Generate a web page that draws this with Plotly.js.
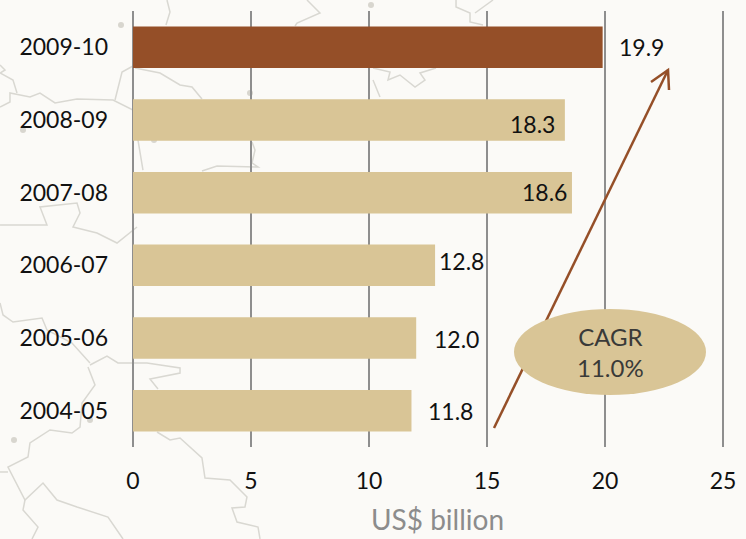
<!DOCTYPE html>
<html>
<head>
<meta charset="utf-8">
<script src="https://cdn.plot.ly/plotly-3.0.1.min.js"></script>
<style>html,body{margin:0;padding:0;background:#fbfaf7}</style>
</head>
<body>
<div id="chart" style="width:746px;height:539px"></div>
<script>
const categories = ["2004-05","2005-06","2006-07","2007-08","2008-09","2009-10"];
const values = [11.8,12.0,12.8,18.6,18.3,19.9];
const barColors = ["#d9c596","#d9c596","#d9c596","#d9c596","#d9c596","#954f28"];
const labelTexts = ["11.8","12.0","12.8","18.6","18.3","19.9"];
const labelShiftX = [39,40,26,-27,-32,39];
const labelShiftY = [0,-1,4,1,-4,0];
const xTicks = [0,5,10,15,20,25];

// Page geometry
const L=133,R=723,T=11,B=447;
const fx=p=>(p-L)/(R-L), fy=p=>1-(p-T)/(B-T);
const toPath=pts=>pts.map((p,i)=>(i?"L":"M")+fx(p[0]).toFixed(4)+","+fy(p[1]).toFixed(4)).join(" ");

// Faint decorative map behind the chart
const mapOutlines = [
 [[167,0],[170,12],[166,25]],
 [[133,66],[122,72],[115,100]],
 [[135,68],[160,73],[180,85],[192,87],[202,99]],
 [[0,107],[10,102],[10,93],[30,97],[40,93],[55,103],[77,99],[113,100],[133,110],[143,170]],
 [[0,65],[5,70],[0,73],[13,80],[17,93]],
 [[252,142],[255,150],[252,163],[258,167],[217,166],[202,171]],
 [[0,225],[47,225],[40,207],[77,203],[80,213],[73,227],[97,233],[117,243],[137,227]],
 [[0,303],[3,315],[13,322],[42,318],[47,330],[72,343],[90,363]],
 [[90,365],[107,356],[118,363],[147,363],[180,368],[180,373],[150,379],[158,389]],
 [[88,367],[95,385],[82,403],[80,427],[72,433],[50,430],[30,443],[28,457],[8,467],[25,500],[43,483],[57,500],[77,507],[108,517],[123,539]],
 [[0,472],[8,472]],
 [[25,500],[23,510],[38,527],[32,539]],
 [[157,432],[170,440],[180,438],[202,458],[205,478],[230,480],[247,497],[245,507],[232,508],[237,522],[258,527],[260,539]],
 [[456,0],[456,7],[470,13],[470,22],[483,25]],
 [[493,0],[475,13]],
 [[373,68],[390,72],[388,80],[400,75],[415,87],[425,80],[420,73],[436,68]],
 [[373,80],[380,97]],
 [[307,0],[320,13],[297,23],[295,26]]
];
const mapDots = [[121,25],[250,93],[23,130],[154,140],[90,420],[14,440],[371,5]];

const shapes = [];
mapOutlines.forEach(o=>shapes.push({type:"path",xref:"paper",yref:"paper",layer:"below",path:toPath(o),line:{color:"#d9d8d2",width:1.5}}));
mapDots.forEach(d=>shapes.push({type:"circle",xref:"paper",yref:"paper",layer:"below",
  x0:fx(d[0]-3),x1:fx(d[0]+3),y0:fy(d[1]+3),y1:fy(d[1]-3),fillcolor:"#d8d6cf",line:{width:0}}));
// Gridlines at the two ends of the axis, which the plot area would clip
[0,1].forEach(e=>shapes.push({type:"line",xref:"paper",yref:"paper",layer:"below",x0:e,x1:e,y0:0,y1:1,line:{color:"#8e8e8e",width:2}}));
// CAGR arrow and ellipse
shapes.push({type:"path",xref:"paper",yref:"paper",layer:"above",path:toPath([[494,428],[668,70]]),line:{color:"#954f28",width:2.5}});
shapes.push({type:"path",xref:"paper",yref:"paper",layer:"above",path:toPath([[651,82],[668,70],[669,90]]),line:{color:"#954f28",width:2.5}});
shapes.push({type:"circle",xref:"paper",yref:"paper",layer:"above",x0:fx(514),x1:fx(706),y0:fy(395),y1:fy(309),fillcolor:"#d9c596",line:{width:0}});

const annotations = values.map((v,i)=>({x:v,y:categories[i],xref:"x",yref:"y",text:labelTexts[i],showarrow:false,
  xshift:labelShiftX[i],yshift:labelShiftY[i],font:{family:"Lato",size:23,color:"#111"}}));
annotations.push({xref:"paper",yref:"paper",x:fx(610),y:fy(352),xanchor:"center",yanchor:"middle",text:"CAGR<br>11.0%",showarrow:false,
  font:{family:"Lato",size:24,color:"#3a3a38"}});
annotations.push({xref:"paper",yref:"paper",x:fx(437),y:fy(538),xanchor:"center",yanchor:"bottom",text:"US$ billion",showarrow:false,
  font:{family:"Lato",size:28,color:"#8c8c8c"}});

Plotly.newPlot("chart",[{
  type:"bar",orientation:"h",x:values,y:categories,width:0.57,
  marker:{color:barColors,line:{width:0}},hoverinfo:"skip"
}],{
  width:746,height:539,
  margin:{l:L,r:746-R,t:T,b:539-B,pad:0},
  paper_bgcolor:"#fbfaf7",plot_bgcolor:"rgba(0,0,0,0)",
  showlegend:false,
  font:{family:"Lato",color:"#111"},
  xaxis:{range:[0,25],tickvals:xTicks,ticktext:xTicks.map(String),showgrid:true,gridcolor:"#8e8e8e",gridwidth:2,
    zeroline:false,showline:false,ticks:"",ticklabelstandoff:18,tickfont:{family:"Lato",size:23,color:"#111"}},
  yaxis:{type:"category",categories:categories,range:[-0.5,5.5],showgrid:false,zeroline:false,showline:false,
    ticks:"",ticklabelstandoff:24,tickfont:{family:"Lato",size:23,color:"#111"}},
  bargap:0.43,shapes:shapes,annotations:annotations
},{displayModeBar:false,staticPlot:true});
</script>
</body>
</html>
